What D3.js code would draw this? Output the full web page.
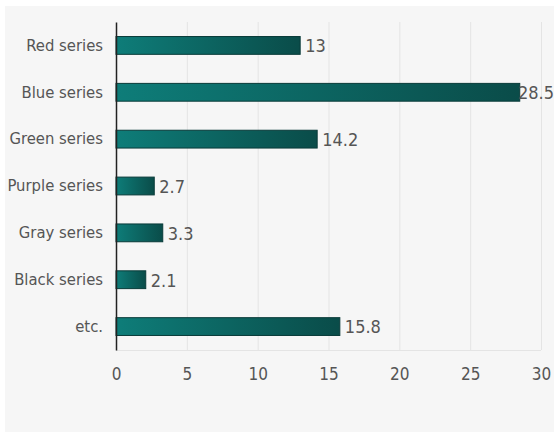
<!DOCTYPE html>
<html><head><meta charset="utf-8">
<script src="https://cdn.jsdelivr.net/npm/d3@7"></script>
<style>
html,body{margin:0;padding:0;background:#fff;}
text{font-family:"Liberation Sans Narrow","DejaVu Sans Condensed","Open Sans",sans-serif;font-stretch:condensed;}
</style></head>
<body><svg id="c" width="554" height="432"></svg>
<script>
const categories = ["Red series","Blue series","Green series","Purple series","Gray series","Black series","etc."];
const values = [13, 28.5, 14.2, 2.7, 3.3, 2.1, 15.8];
const xTicks = [0, 5, 10, 15, 20, 25, 30];

const W = 554, H = 432;
const m = {left:116, right:13, top:22, bottom:82};
const svg = d3.select("#c");

svg.append("rect").attr("x",5).attr("y",6).attr("width",W-5).attr("height",H-6).attr("fill","#f6f6f6");

const x = d3.scaleLinear().domain([0,30]).range([m.left, W-m.right]);
const y = d3.scaleBand().domain(categories).range([m.top, H-m.bottom]).paddingInner(0.62).paddingOuter(0.31);

const defs = svg.append("defs");
const g = defs.append("linearGradient").attr("id","bg").attr("x1","0").attr("x2","1").attr("y1","0").attr("y2","0");
g.append("stop").attr("offset","0").attr("stop-color","#0e7d79");
g.append("stop").attr("offset","1").attr("stop-color","#0a4c49");

// grid
const grid = svg.append("g");
grid.selectAll("line.v").data(xTicks.filter(d=>d>0)).join("line")
  .attr("x1",d=>x(d)+0.5).attr("x2",d=>x(d)+0.5)
  .attr("y1",m.top).attr("y2",H-m.bottom)
  .attr("stroke","#e4e4e4").attr("stroke-width",1);
grid.append("line").attr("x1",m.left).attr("x2",x(30)).attr("y1",H-m.bottom+0.5).attr("y2",H-m.bottom+0.5)
  .attr("stroke","#e4e4e4");

// bars
svg.append("g").selectAll("rect").data(values).join("rect")
  .attr("x",x(0)).attr("y",(d,i)=>y(categories[i]))
  .attr("width",d=>x(d)-x(0)).attr("height",y.bandwidth())
  .attr("fill","url(#bg)").attr("stroke","#093b39").attr("stroke-width",1);

// value labels
svg.append("g").selectAll("text").data(values).join("text")
  .attr("y",(d,i)=>y(categories[i])+y.bandwidth()/2)
  .attr("dy","0.38em")
  .attr("font-size",18).attr("fill","#555")
  .text(d=>d)
  .each(function(d){
    const w = this.getComputedTextLength();
    let px = x(d)+5;
    if(px+w > W) px = W - w;
    d3.select(this).attr("x",px);
  });

// y axis
const ya = svg.append("g").attr("transform",`translate(${m.left},0)`)
  .call(d3.axisLeft(y).tickSize(0).tickPadding(13));
ya.select(".domain").attr("stroke","#222").attr("stroke-width",1.5);
ya.selectAll("text").attr("font-size",16.5).attr("fill","#555");

// x axis
const xa = svg.append("g").attr("transform",`translate(0,${H-m.bottom})`)
  .call(d3.axisBottom(x).tickValues(xTicks).tickSize(0).tickPadding(18));
xa.select(".domain").remove();
xa.selectAll("text").attr("font-size",17).attr("fill","#555");
</script></body></html>
